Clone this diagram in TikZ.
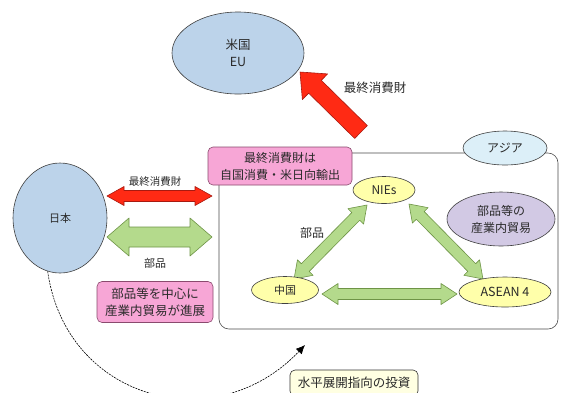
\documentclass[tikz,border=0pt]{standalone}
\usepackage{fontspec}
\setmainfont{Noto Sans CJK JP}
\usetikzlibrary{shapes.geometric,arrows.meta}
\definecolor{eublue}{HTML}{BCD3EA}
\definecolor{asiacyan}{HTML}{DCEFF8}
\definecolor{ctyyellow}{HTML}{FFFFAA}
\definecolor{lavend}{HTML}{D2C9E4}
\definecolor{pinkbox}{HTML}{F7A6D6}
\definecolor{pinkline}{HTML}{8A4A6E}
\definecolor{creambox}{HTML}{FFFFE2}
\definecolor{arrred}{HTML}{FF2A14}
\definecolor{arrredline}{HTML}{A81A10}
\definecolor{arrgreen}{HTML}{B4DA8C}
\definecolor{arrgreenline}{HTML}{6E9446}
\definecolor{txtgray}{HTML}{2A2A2A}
\newcommand{\blockdbl}[8]{%
  \pgfmathsetmacro{\blkL}{veclen(#3-#1,#4-#2)}%
  \pgfmathsetmacro{\blkA}{atan2(#2-#4,#3-#1)}%
  \pgfmathsetmacro{\blkB}{\blkL-#7}%
  \begin{scope}[shift={(#1,#2)},rotate=\blkA]
    \draw[#8] (0,0) -- (#7,#6) -- (#7,#5) -- (\blkB,#5) -- (\blkB,#6) -- (\blkL,0)
      -- (\blkB,-#6) -- (\blkB,-#5) -- (#7,-#5) -- (#7,-#6) -- cycle;
  \end{scope}}
\newcommand{\blocksgl}[8]{%
  \pgfmathsetmacro{\blkL}{veclen(#3-#1,#4-#2)}%
  \pgfmathsetmacro{\blkA}{atan2(#2-#4,#3-#1)}%
  \pgfmathsetmacro{\blkB}{\blkL-#7}%
  \begin{scope}[shift={(#1,#2)},rotate=\blkA]
    \draw[#8] (0,#5) -- (\blkB,#5) -- (\blkB,#6) -- (\blkL,0)
      -- (\blkB,-#6) -- (\blkB,-#5) -- (0,-#5) -- cycle;
  \end{scope}}
\newcommand{\fsz}[1]{\fontsize{#1pt}{17pt}\selectfont}
\begin{document}
\begin{tikzpicture}[x=1pt,y=-1pt,
  every node/.style={text=txtgray,font=\fsz{12}},
  ell/.style={ellipse,draw=black!75,line width=0.6pt,inner sep=0pt,align=center},
  pinklabel/.style={rectangle,rounded corners=5pt,draw=pinkline,fill=pinkbox,line width=0.6pt,align=center,inner sep=0pt},
  redarr/.style={fill=arrred,draw=arrredline,line width=0.6pt,line join=round},
  greenarr/.style={fill=arrgreen,draw=arrgreenline,line width=0.6pt,line join=round},
  invest/.style={draw=black,line width=0.6pt,dash pattern=on 2pt off 1pt,-{Latex[length=9pt,width=8pt]}}]
\useasboundingbox (0,0) rectangle (561,392);
\clip (0,0) rectangle (561,392);
\fill[white] (0,0) rectangle (561,392);

% Asia region
\draw[black!70,line width=0.6pt,rounded corners=10pt,fill=white] (219,153) rectangle (558,329);

% block arrows
\blocksgl{361}{132}{300}{72}{9}{18}{21}{redarr}
\blockdbl{107}{196}{212}{196}{5.5}{9.5}{17}{redarr}
\blockdbl{107}{237}{212}{237}{10}{19}{22}{greenarr}
\blockdbl{367}{205}{294}{279}{5.5}{11}{16}{greenarr}
\blockdbl{409}{204}{483}{279}{5.5}{11}{16}{greenarr}
\blockdbl{322}{294}{457}{294}{5.5}{10.5}{16}{greenarr}

% nodes
\node[ell,fill=eublue,minimum width=132pt,minimum height=82pt,font=\fsz{12.5}] (eu) at (238,53) {米国\\EU};
\node[ell,fill=eublue,minimum width=94pt,minimum height=110pt,font=\fsz{11}] (jp) at (60,218) {日本};
\node[ell,fill=asiacyan,minimum width=84pt,minimum height=34pt] (asia) at (505,148) {アジア};
\node[ell,fill=ctyyellow,minimum width=62pt,minimum height=27pt] (nies) at (384,190) {NIEs};
\node[ell,fill=ctyyellow,minimum width=67pt,minimum height=27pt,font=\fsz{11}] (cn) at (285,290) {中国};
\node[ell,fill=ctyyellow,minimum width=92pt,minimum height=30pt,font=\fsz{12.5}] (asean) at (505,292) {ASEAN 4};
\node[ell,fill=lavend,minimum width=108pt,minimum height=54pt] (intra) at (501,219) {部品等の\\産業内貿易};
\node[pinklabel,minimum width=144pt,minimum height=38pt] (cons) at (280,166) {最終消費財は\\自国消費・米日向輸出};
\node[pinklabel,minimum width=116pt,minimum height=41pt,font=\fsz{12.5}] (parts) at (155,302) {部品等を中心に\\産業内貿易が進展};
\node[rectangle,rounded corners=5pt,draw=black!80,fill=creambox,line width=0.6pt,minimum width=128pt,minimum height=26pt,inner sep=0pt,font=\fsz{12.5}] (hinv) at (354,383) {水平展開指向の投資};

% labels
\node[font=\fsz{12.5}] (lblred) at (375,88) {最終消費財};
\node[font=\fsz{10.5}] (lblcons) at (155,182) {最終消費財};
\node[font=\fsz{11}] (lblparts) at (155,263) {部品};
\node (lblparts2) at (312,233) {部品};

% investment curve
\coordinate (invtip) at (305,345);
\draw[invest] (jp.257) .. controls (66,400) and (215,440) .. (invtip);
\end{tikzpicture}
\end{document}
